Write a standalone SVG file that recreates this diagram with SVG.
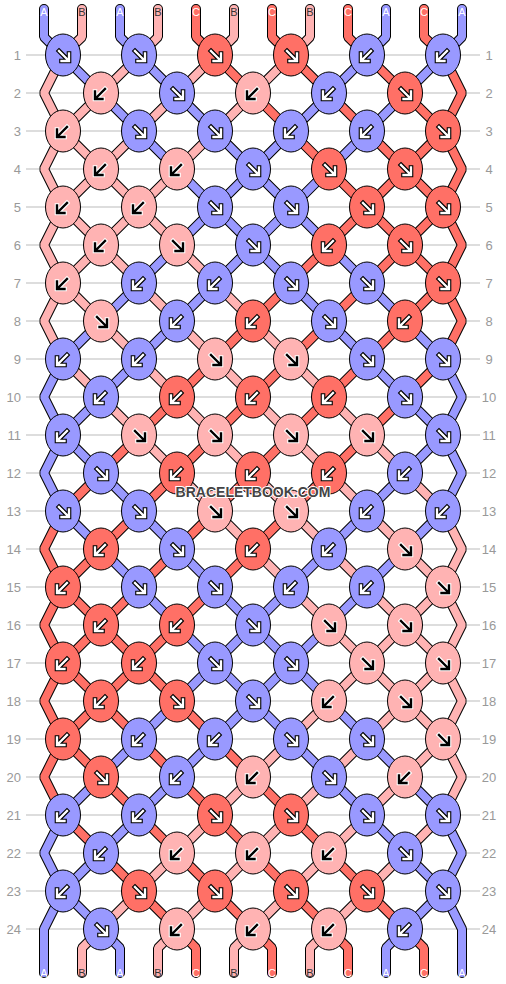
<svg xmlns="http://www.w3.org/2000/svg" xmlns:xlink="http://www.w3.org/1999/xlink" width="506" height="984" viewBox="0 0 506 984">
<style>
.grid line{stroke:#bbb;stroke-width:1}
.rl{font-family:"Liberation Sans",Arial,sans-serif;font-size:13px;fill:#999}
.rr{text-anchor:middle}
.ll{text-anchor:end}
.o{fill:none;stroke:#000;stroke-width:10;stroke-linecap:round;stroke-linejoin:bevel}
.f{fill:none;stroke-width:8;stroke-linecap:round;stroke-linejoin:bevel}
.sa{stroke:#9999ff}.sb{stroke:#ffb3b3}.sc{stroke:#ff7066}
ellipse{stroke:#000;stroke-width:1}
.a{fill:#9999ff}.b{fill:#ffb3b3}.c{fill:#ff7066}
.k1{fill:none;stroke:#000;stroke-width:4.6;stroke-linecap:square}
.k2{fill:none;stroke:#fff;stroke-width:2.4;stroke-linecap:square}
.sl{font-family:"Liberation Sans",Arial,sans-serif;font-size:11px;text-anchor:middle}
.ta,.tc{fill:#fff}.tb{fill:#333}
.wm{font-family:"Liberation Sans",Arial,sans-serif;font-size:14px;font-weight:bold;fill:#444;stroke:#fff;stroke-width:2;paint-order:stroke;text-anchor:middle}
</style>
<defs>
<g id="RW"><path class="k1" d="M-4,-4L5,5M6,-1.5V6H-1.5"/><path class="k2" d="M-4,-4L5,5M6,-1.5V6H-1.5"/></g>
<g id="LW"><path class="k1" d="M4,-4L-5,5M-6,-1.5V6H1.5"/><path class="k2" d="M4,-4L-5,5M-6,-1.5V6H1.5"/></g>
<g id="RK"><path class="k2" style="stroke-width:4.6" d="M-4,-4L5,5M6,-1.5V6H-1.5"/><path class="k1" style="stroke-width:2.4" d="M-4,-4L5,5M6,-1.5V6H-1.5"/></g>
<g id="LK"><path class="k2" style="stroke-width:4.6" d="M4,-4L-5,5M-6,-1.5V6H1.5"/><path class="k1" style="stroke-width:2.4" d="M4,-4L-5,5M-6,-1.5V6H1.5"/></g>
</defs>
<rect width="506" height="984" fill="#fff"/>
<g class="grid">
<line x1="26" x2="480" y1="55" y2="55"/><line x1="26" x2="480" y1="93" y2="93"/><line x1="26" x2="480" y1="131" y2="131"/><line x1="26" x2="480" y1="169" y2="169"/><line x1="26" x2="480" y1="207" y2="207"/><line x1="26" x2="480" y1="245" y2="245"/><line x1="26" x2="480" y1="283" y2="283"/><line x1="26" x2="480" y1="321" y2="321"/><line x1="26" x2="480" y1="359" y2="359"/><line x1="26" x2="480" y1="397" y2="397"/><line x1="26" x2="480" y1="435" y2="435"/><line x1="26" x2="480" y1="473" y2="473"/><line x1="26" x2="480" y1="511" y2="511"/><line x1="26" x2="480" y1="549" y2="549"/><line x1="26" x2="480" y1="587" y2="587"/><line x1="26" x2="480" y1="625" y2="625"/><line x1="26" x2="480" y1="663" y2="663"/><line x1="26" x2="480" y1="701" y2="701"/><line x1="26" x2="480" y1="739" y2="739"/><line x1="26" x2="480" y1="777" y2="777"/><line x1="26" x2="480" y1="815" y2="815"/><line x1="26" x2="480" y1="853" y2="853"/><line x1="26" x2="480" y1="891" y2="891"/><line x1="26" x2="480" y1="929" y2="929"/>
</g>
<g class="rl">
<g class="ll">
<text x="21" y="59.5">1</text><text x="21" y="97.5">2</text><text x="21" y="135.5">3</text><text x="21" y="173.5">4</text><text x="21" y="211.5">5</text><text x="21" y="249.5">6</text><text x="21" y="287.5">7</text><text x="21" y="325.5">8</text><text x="21" y="363.5">9</text><text x="21" y="401.5">10</text><text x="21" y="439.5">11</text><text x="21" y="477.5">12</text><text x="21" y="515.5">13</text><text x="21" y="553.5">14</text><text x="21" y="591.5">15</text><text x="21" y="629.5">16</text><text x="21" y="667.5">17</text><text x="21" y="705.5">18</text><text x="21" y="743.5">19</text><text x="21" y="781.5">20</text><text x="21" y="819.5">21</text><text x="21" y="857.5">22</text><text x="21" y="895.5">23</text><text x="21" y="933.5">24</text>
</g>
<g class="rr">
<text x="489" y="59.5">1</text><text x="489" y="97.5">2</text><text x="489" y="135.5">3</text><text x="489" y="173.5">4</text><text x="489" y="211.5">5</text><text x="489" y="249.5">6</text><text x="489" y="287.5">7</text><text x="489" y="325.5">8</text><text x="489" y="363.5">9</text><text x="489" y="401.5">10</text><text x="489" y="439.5">11</text><text x="489" y="477.5">12</text><text x="489" y="515.5">13</text><text x="489" y="553.5">14</text><text x="489" y="591.5">15</text><text x="489" y="629.5">16</text><text x="489" y="667.5">17</text><text x="489" y="705.5">18</text><text x="489" y="743.5">19</text><text x="489" y="781.5">20</text><text x="489" y="819.5">21</text><text x="489" y="857.5">22</text><text x="489" y="895.5">23</text><text x="489" y="933.5">24</text>
</g>
</g>
<g id="connectors">
<g class="o">
<path d="M44,9V37L443,435L462,473L443,511L63,891L44,929V973"/>
<path d="M82,9V37L63,55L44,93L63,131L443,511L462,549L443,587L101,929L82,948V973"/>
<path d="M120,9V37L443,359L462,397L443,435L63,815L44,853L63,891L101,929L120,948V973"/>
<path d="M158,9V37L63,131L44,169L63,207L443,587L462,625L443,663L177,929L158,948V973"/>
<path d="M196,9V37L443,283L462,321L443,359L63,739L44,777L63,815L177,929L196,948V973"/>
<path d="M234,9V37L63,207L44,245L63,283L443,663L462,701L443,739L253,929L234,948V973"/>
<path d="M272,9V37L443,207L462,245L443,283L63,663L44,701L63,739L253,929L272,948V973"/>
<path d="M310,9V37L63,283L44,321L63,359L443,739L462,777L443,815L329,929L310,948V973"/>
<path d="M348,9V37L443,131L462,169L443,207L63,587L44,625L63,663L329,929L348,948V973"/>
<path d="M386,9V37L63,359L44,397L63,435L443,815L462,853L443,891L405,929L386,948V973"/>
<path d="M424,9V37L443,55L462,93L443,131L63,511L44,549L63,587L405,929L424,948V973"/>
<path d="M462,9V37L63,435L44,473L63,511L443,891L462,929V973"/>
</g>
<g class="f">
<path id="s0" class="sa" d="M44,9V37L443,435L462,473L443,511L63,891L44,929V973"/>
<path id="s1" class="sb" d="M82,9V37L63,55L44,93L63,131L443,511L462,549L443,587L101,929L82,948V973"/>
<path id="s2" class="sa" d="M120,9V37L443,359L462,397L443,435L63,815L44,853L63,891L101,929L120,948V973"/>
<path id="s3" class="sb" d="M158,9V37L63,131L44,169L63,207L443,587L462,625L443,663L177,929L158,948V973"/>
<path id="s4" class="sc" d="M196,9V37L443,283L462,321L443,359L63,739L44,777L63,815L177,929L196,948V973"/>
<path id="s5" class="sb" d="M234,9V37L63,207L44,245L63,283L443,663L462,701L443,739L253,929L234,948V973"/>
<path id="s6" class="sc" d="M272,9V37L443,207L462,245L443,283L63,663L44,701L63,739L253,929L272,948V973"/>
<path id="s7" class="sb" d="M310,9V37L63,283L44,321L63,359L443,739L462,777L443,815L329,929L310,948V973"/>
<path id="s8" class="sc" d="M348,9V37L443,131L462,169L443,207L63,587L44,625L63,663L329,929L348,948V973"/>
<path id="s9" class="sa" d="M386,9V37L63,359L44,397L63,435L443,815L462,853L443,891L405,929L386,948V973"/>
<path id="s10" class="sc" d="M424,9V37L443,55L462,93L443,131L63,511L44,549L63,587L405,929L424,948V973"/>
<path id="s11" class="sa" d="M462,9V37L63,435L44,473L63,511L443,891L462,929V973"/>
</g>
</g>
<g class="sl">
<text class="ta" x="44" y="16">A</text><text class="tb" x="82" y="16">B</text><text class="ta" x="120" y="16">A</text><text class="tb" x="158" y="16">B</text><text class="tc" x="196" y="16">C</text><text class="tb" x="234" y="16">B</text><text class="tc" x="272" y="16">C</text><text class="tb" x="310" y="16">B</text><text class="tc" x="348" y="16">C</text><text class="ta" x="386" y="16">A</text><text class="tc" x="424" y="16">C</text><text class="ta" x="462" y="16">A</text>
<text class="ta" x="44" y="977">A</text><text class="tb" x="82" y="977">B</text><text class="ta" x="120" y="977">A</text><text class="tb" x="158" y="977">B</text><text class="tc" x="196" y="977">C</text><text class="tb" x="234" y="977">B</text><text class="tc" x="272" y="977">C</text><text class="tb" x="310" y="977">B</text><text class="tc" x="348" y="977">C</text><text class="ta" x="386" y="977">A</text><text class="tc" x="424" y="977">C</text><text class="ta" x="462" y="977">A</text>
</g>
<g id="knots">
<g id="n1_1"><ellipse class="a" cx="63" cy="55" rx="17.5" ry="21"/><use href="#RW" x="63" y="55"/></g>
<g id="n1_2"><ellipse class="a" cx="139" cy="55" rx="17.5" ry="21"/><use href="#RW" x="139" y="55"/></g>
<g id="n1_3"><ellipse class="c" cx="215" cy="55" rx="17.5" ry="21"/><use href="#RW" x="215" y="55"/></g>
<g id="n1_4"><ellipse class="c" cx="291" cy="55" rx="17.5" ry="21"/><use href="#RW" x="291" y="55"/></g>
<g id="n1_5"><ellipse class="a" cx="367" cy="55" rx="17.5" ry="21"/><use href="#LW" x="367" y="55"/></g>
<g id="n1_6"><ellipse class="a" cx="443" cy="55" rx="17.5" ry="21"/><use href="#LW" x="443" y="55"/></g>
<g id="n2_1"><ellipse class="b" cx="101" cy="93" rx="17.5" ry="21"/><use href="#LK" x="101" y="93"/></g>
<g id="n2_2"><ellipse class="a" cx="177" cy="93" rx="17.5" ry="21"/><use href="#RW" x="177" y="93"/></g>
<g id="n2_3"><ellipse class="b" cx="253" cy="93" rx="17.5" ry="21"/><use href="#LK" x="253" y="93"/></g>
<g id="n2_4"><ellipse class="a" cx="329" cy="93" rx="17.5" ry="21"/><use href="#LW" x="329" y="93"/></g>
<g id="n2_5"><ellipse class="c" cx="405" cy="93" rx="17.5" ry="21"/><use href="#RW" x="405" y="93"/></g>
<g id="n3_1"><ellipse class="b" cx="63" cy="131" rx="17.5" ry="21"/><use href="#LK" x="63" y="131"/></g>
<g id="n3_2"><ellipse class="a" cx="139" cy="131" rx="17.5" ry="21"/><use href="#RW" x="139" y="131"/></g>
<g id="n3_3"><ellipse class="a" cx="215" cy="131" rx="17.5" ry="21"/><use href="#RW" x="215" y="131"/></g>
<g id="n3_4"><ellipse class="a" cx="291" cy="131" rx="17.5" ry="21"/><use href="#LW" x="291" y="131"/></g>
<g id="n3_5"><ellipse class="a" cx="367" cy="131" rx="17.5" ry="21"/><use href="#LW" x="367" y="131"/></g>
<g id="n3_6"><ellipse class="c" cx="443" cy="131" rx="17.5" ry="21"/><use href="#RW" x="443" y="131"/></g>
<g id="n4_1"><ellipse class="b" cx="101" cy="169" rx="17.5" ry="21"/><use href="#LK" x="101" y="169"/></g>
<g id="n4_2"><ellipse class="b" cx="177" cy="169" rx="17.5" ry="21"/><use href="#LK" x="177" y="169"/></g>
<g id="n4_3"><ellipse class="a" cx="253" cy="169" rx="17.5" ry="21"/><use href="#RW" x="253" y="169"/></g>
<g id="n4_4"><ellipse class="c" cx="329" cy="169" rx="17.5" ry="21"/><use href="#RW" x="329" y="169"/></g>
<g id="n4_5"><ellipse class="c" cx="405" cy="169" rx="17.5" ry="21"/><use href="#RW" x="405" y="169"/></g>
<g id="n5_1"><ellipse class="b" cx="63" cy="207" rx="17.5" ry="21"/><use href="#LK" x="63" y="207"/></g>
<g id="n5_2"><ellipse class="b" cx="139" cy="207" rx="17.5" ry="21"/><use href="#LK" x="139" y="207"/></g>
<g id="n5_3"><ellipse class="a" cx="215" cy="207" rx="17.5" ry="21"/><use href="#RW" x="215" y="207"/></g>
<g id="n5_4"><ellipse class="a" cx="291" cy="207" rx="17.5" ry="21"/><use href="#RW" x="291" y="207"/></g>
<g id="n5_5"><ellipse class="c" cx="367" cy="207" rx="17.5" ry="21"/><use href="#RW" x="367" y="207"/></g>
<g id="n5_6"><ellipse class="c" cx="443" cy="207" rx="17.5" ry="21"/><use href="#RW" x="443" y="207"/></g>
<g id="n6_1"><ellipse class="b" cx="101" cy="245" rx="17.5" ry="21"/><use href="#LK" x="101" y="245"/></g>
<g id="n6_2"><ellipse class="b" cx="177" cy="245" rx="17.5" ry="21"/><use href="#RK" x="177" y="245"/></g>
<g id="n6_3"><ellipse class="a" cx="253" cy="245" rx="17.5" ry="21"/><use href="#RW" x="253" y="245"/></g>
<g id="n6_4"><ellipse class="c" cx="329" cy="245" rx="17.5" ry="21"/><use href="#LW" x="329" y="245"/></g>
<g id="n6_5"><ellipse class="c" cx="405" cy="245" rx="17.5" ry="21"/><use href="#RW" x="405" y="245"/></g>
<g id="n7_1"><ellipse class="b" cx="63" cy="283" rx="17.5" ry="21"/><use href="#LK" x="63" y="283"/></g>
<g id="n7_2"><ellipse class="a" cx="139" cy="283" rx="17.5" ry="21"/><use href="#LW" x="139" y="283"/></g>
<g id="n7_3"><ellipse class="a" cx="215" cy="283" rx="17.5" ry="21"/><use href="#LW" x="215" y="283"/></g>
<g id="n7_4"><ellipse class="a" cx="291" cy="283" rx="17.5" ry="21"/><use href="#RW" x="291" y="283"/></g>
<g id="n7_5"><ellipse class="a" cx="367" cy="283" rx="17.5" ry="21"/><use href="#RW" x="367" y="283"/></g>
<g id="n7_6"><ellipse class="c" cx="443" cy="283" rx="17.5" ry="21"/><use href="#RW" x="443" y="283"/></g>
<g id="n8_1"><ellipse class="b" cx="101" cy="321" rx="17.5" ry="21"/><use href="#RK" x="101" y="321"/></g>
<g id="n8_2"><ellipse class="a" cx="177" cy="321" rx="17.5" ry="21"/><use href="#LW" x="177" y="321"/></g>
<g id="n8_3"><ellipse class="c" cx="253" cy="321" rx="17.5" ry="21"/><use href="#LW" x="253" y="321"/></g>
<g id="n8_4"><ellipse class="a" cx="329" cy="321" rx="17.5" ry="21"/><use href="#RW" x="329" y="321"/></g>
<g id="n8_5"><ellipse class="c" cx="405" cy="321" rx="17.5" ry="21"/><use href="#LW" x="405" y="321"/></g>
<g id="n9_1"><ellipse class="a" cx="63" cy="359" rx="17.5" ry="21"/><use href="#LW" x="63" y="359"/></g>
<g id="n9_2"><ellipse class="a" cx="139" cy="359" rx="17.5" ry="21"/><use href="#LW" x="139" y="359"/></g>
<g id="n9_3"><ellipse class="b" cx="215" cy="359" rx="17.5" ry="21"/><use href="#RK" x="215" y="359"/></g>
<g id="n9_4"><ellipse class="b" cx="291" cy="359" rx="17.5" ry="21"/><use href="#RK" x="291" y="359"/></g>
<g id="n9_5"><ellipse class="a" cx="367" cy="359" rx="17.5" ry="21"/><use href="#RW" x="367" y="359"/></g>
<g id="n9_6"><ellipse class="a" cx="443" cy="359" rx="17.5" ry="21"/><use href="#RW" x="443" y="359"/></g>
<g id="n10_1"><ellipse class="a" cx="101" cy="397" rx="17.5" ry="21"/><use href="#LW" x="101" y="397"/></g>
<g id="n10_2"><ellipse class="c" cx="177" cy="397" rx="17.5" ry="21"/><use href="#LW" x="177" y="397"/></g>
<g id="n10_3"><ellipse class="c" cx="253" cy="397" rx="17.5" ry="21"/><use href="#LW" x="253" y="397"/></g>
<g id="n10_4"><ellipse class="c" cx="329" cy="397" rx="17.5" ry="21"/><use href="#LW" x="329" y="397"/></g>
<g id="n10_5"><ellipse class="a" cx="405" cy="397" rx="17.5" ry="21"/><use href="#RW" x="405" y="397"/></g>
<g id="n11_1"><ellipse class="a" cx="63" cy="435" rx="17.5" ry="21"/><use href="#LW" x="63" y="435"/></g>
<g id="n11_2"><ellipse class="b" cx="139" cy="435" rx="17.5" ry="21"/><use href="#RK" x="139" y="435"/></g>
<g id="n11_3"><ellipse class="b" cx="215" cy="435" rx="17.5" ry="21"/><use href="#RK" x="215" y="435"/></g>
<g id="n11_4"><ellipse class="b" cx="291" cy="435" rx="17.5" ry="21"/><use href="#RK" x="291" y="435"/></g>
<g id="n11_5"><ellipse class="b" cx="367" cy="435" rx="17.5" ry="21"/><use href="#RK" x="367" y="435"/></g>
<g id="n11_6"><ellipse class="a" cx="443" cy="435" rx="17.5" ry="21"/><use href="#RW" x="443" y="435"/></g>
<g id="n12_1"><ellipse class="a" cx="101" cy="473" rx="17.5" ry="21"/><use href="#RW" x="101" y="473"/></g>
<g id="n12_2"><ellipse class="c" cx="177" cy="473" rx="17.5" ry="21"/><use href="#LW" x="177" y="473"/></g>
<g id="n12_3"><ellipse class="c" cx="253" cy="473" rx="17.5" ry="21"/><use href="#LW" x="253" y="473"/></g>
<g id="n12_4"><ellipse class="c" cx="329" cy="473" rx="17.5" ry="21"/><use href="#LW" x="329" y="473"/></g>
<g id="n12_5"><ellipse class="a" cx="405" cy="473" rx="17.5" ry="21"/><use href="#LW" x="405" y="473"/></g>
<g id="n13_1"><ellipse class="a" cx="63" cy="511" rx="17.5" ry="21"/><use href="#RW" x="63" y="511"/></g>
<g id="n13_2"><ellipse class="a" cx="139" cy="511" rx="17.5" ry="21"/><use href="#RW" x="139" y="511"/></g>
<g id="n13_3"><ellipse class="b" cx="215" cy="511" rx="17.5" ry="21"/><use href="#RK" x="215" y="511"/></g>
<g id="n13_4"><ellipse class="b" cx="291" cy="511" rx="17.5" ry="21"/><use href="#RK" x="291" y="511"/></g>
<g id="n13_5"><ellipse class="a" cx="367" cy="511" rx="17.5" ry="21"/><use href="#LW" x="367" y="511"/></g>
<g id="n13_6"><ellipse class="a" cx="443" cy="511" rx="17.5" ry="21"/><use href="#LW" x="443" y="511"/></g>
<g id="n14_1"><ellipse class="c" cx="101" cy="549" rx="17.5" ry="21"/><use href="#LW" x="101" y="549"/></g>
<g id="n14_2"><ellipse class="a" cx="177" cy="549" rx="17.5" ry="21"/><use href="#RW" x="177" y="549"/></g>
<g id="n14_3"><ellipse class="c" cx="253" cy="549" rx="17.5" ry="21"/><use href="#LW" x="253" y="549"/></g>
<g id="n14_4"><ellipse class="a" cx="329" cy="549" rx="17.5" ry="21"/><use href="#LW" x="329" y="549"/></g>
<g id="n14_5"><ellipse class="b" cx="405" cy="549" rx="17.5" ry="21"/><use href="#RK" x="405" y="549"/></g>
<g id="n15_1"><ellipse class="c" cx="63" cy="587" rx="17.5" ry="21"/><use href="#LW" x="63" y="587"/></g>
<g id="n15_2"><ellipse class="a" cx="139" cy="587" rx="17.5" ry="21"/><use href="#RW" x="139" y="587"/></g>
<g id="n15_3"><ellipse class="a" cx="215" cy="587" rx="17.5" ry="21"/><use href="#RW" x="215" y="587"/></g>
<g id="n15_4"><ellipse class="a" cx="291" cy="587" rx="17.5" ry="21"/><use href="#LW" x="291" y="587"/></g>
<g id="n15_5"><ellipse class="a" cx="367" cy="587" rx="17.5" ry="21"/><use href="#LW" x="367" y="587"/></g>
<g id="n15_6"><ellipse class="b" cx="443" cy="587" rx="17.5" ry="21"/><use href="#RK" x="443" y="587"/></g>
<g id="n16_1"><ellipse class="c" cx="101" cy="625" rx="17.5" ry="21"/><use href="#LW" x="101" y="625"/></g>
<g id="n16_2"><ellipse class="c" cx="177" cy="625" rx="17.5" ry="21"/><use href="#LW" x="177" y="625"/></g>
<g id="n16_3"><ellipse class="a" cx="253" cy="625" rx="17.5" ry="21"/><use href="#RW" x="253" y="625"/></g>
<g id="n16_4"><ellipse class="b" cx="329" cy="625" rx="17.5" ry="21"/><use href="#RK" x="329" y="625"/></g>
<g id="n16_5"><ellipse class="b" cx="405" cy="625" rx="17.5" ry="21"/><use href="#RK" x="405" y="625"/></g>
<g id="n17_1"><ellipse class="c" cx="63" cy="663" rx="17.5" ry="21"/><use href="#LW" x="63" y="663"/></g>
<g id="n17_2"><ellipse class="c" cx="139" cy="663" rx="17.5" ry="21"/><use href="#LW" x="139" y="663"/></g>
<g id="n17_3"><ellipse class="a" cx="215" cy="663" rx="17.5" ry="21"/><use href="#RW" x="215" y="663"/></g>
<g id="n17_4"><ellipse class="a" cx="291" cy="663" rx="17.5" ry="21"/><use href="#RW" x="291" y="663"/></g>
<g id="n17_5"><ellipse class="b" cx="367" cy="663" rx="17.5" ry="21"/><use href="#RK" x="367" y="663"/></g>
<g id="n17_6"><ellipse class="b" cx="443" cy="663" rx="17.5" ry="21"/><use href="#RK" x="443" y="663"/></g>
<g id="n18_1"><ellipse class="c" cx="101" cy="701" rx="17.5" ry="21"/><use href="#LW" x="101" y="701"/></g>
<g id="n18_2"><ellipse class="c" cx="177" cy="701" rx="17.5" ry="21"/><use href="#RW" x="177" y="701"/></g>
<g id="n18_3"><ellipse class="a" cx="253" cy="701" rx="17.5" ry="21"/><use href="#RW" x="253" y="701"/></g>
<g id="n18_4"><ellipse class="b" cx="329" cy="701" rx="17.5" ry="21"/><use href="#LK" x="329" y="701"/></g>
<g id="n18_5"><ellipse class="b" cx="405" cy="701" rx="17.5" ry="21"/><use href="#RK" x="405" y="701"/></g>
<g id="n19_1"><ellipse class="c" cx="63" cy="739" rx="17.5" ry="21"/><use href="#LW" x="63" y="739"/></g>
<g id="n19_2"><ellipse class="a" cx="139" cy="739" rx="17.5" ry="21"/><use href="#LW" x="139" y="739"/></g>
<g id="n19_3"><ellipse class="a" cx="215" cy="739" rx="17.5" ry="21"/><use href="#LW" x="215" y="739"/></g>
<g id="n19_4"><ellipse class="a" cx="291" cy="739" rx="17.5" ry="21"/><use href="#RW" x="291" y="739"/></g>
<g id="n19_5"><ellipse class="a" cx="367" cy="739" rx="17.5" ry="21"/><use href="#RW" x="367" y="739"/></g>
<g id="n19_6"><ellipse class="b" cx="443" cy="739" rx="17.5" ry="21"/><use href="#RK" x="443" y="739"/></g>
<g id="n20_1"><ellipse class="c" cx="101" cy="777" rx="17.5" ry="21"/><use href="#RW" x="101" y="777"/></g>
<g id="n20_2"><ellipse class="a" cx="177" cy="777" rx="17.5" ry="21"/><use href="#LW" x="177" y="777"/></g>
<g id="n20_3"><ellipse class="b" cx="253" cy="777" rx="17.5" ry="21"/><use href="#LK" x="253" y="777"/></g>
<g id="n20_4"><ellipse class="a" cx="329" cy="777" rx="17.5" ry="21"/><use href="#RW" x="329" y="777"/></g>
<g id="n20_5"><ellipse class="b" cx="405" cy="777" rx="17.5" ry="21"/><use href="#LK" x="405" y="777"/></g>
<g id="n21_1"><ellipse class="a" cx="63" cy="815" rx="17.5" ry="21"/><use href="#LW" x="63" y="815"/></g>
<g id="n21_2"><ellipse class="a" cx="139" cy="815" rx="17.5" ry="21"/><use href="#LW" x="139" y="815"/></g>
<g id="n21_3"><ellipse class="c" cx="215" cy="815" rx="17.5" ry="21"/><use href="#RW" x="215" y="815"/></g>
<g id="n21_4"><ellipse class="c" cx="291" cy="815" rx="17.5" ry="21"/><use href="#RW" x="291" y="815"/></g>
<g id="n21_5"><ellipse class="a" cx="367" cy="815" rx="17.5" ry="21"/><use href="#RW" x="367" y="815"/></g>
<g id="n21_6"><ellipse class="a" cx="443" cy="815" rx="17.5" ry="21"/><use href="#RW" x="443" y="815"/></g>
<g id="n22_1"><ellipse class="a" cx="101" cy="853" rx="17.5" ry="21"/><use href="#LW" x="101" y="853"/></g>
<g id="n22_2"><ellipse class="b" cx="177" cy="853" rx="17.5" ry="21"/><use href="#LK" x="177" y="853"/></g>
<g id="n22_3"><ellipse class="b" cx="253" cy="853" rx="17.5" ry="21"/><use href="#LK" x="253" y="853"/></g>
<g id="n22_4"><ellipse class="b" cx="329" cy="853" rx="17.5" ry="21"/><use href="#LK" x="329" y="853"/></g>
<g id="n22_5"><ellipse class="a" cx="405" cy="853" rx="17.5" ry="21"/><use href="#RW" x="405" y="853"/></g>
<g id="n23_1"><ellipse class="a" cx="63" cy="891" rx="17.5" ry="21"/><use href="#LW" x="63" y="891"/></g>
<g id="n23_2"><ellipse class="c" cx="139" cy="891" rx="17.5" ry="21"/><use href="#RW" x="139" y="891"/></g>
<g id="n23_3"><ellipse class="c" cx="215" cy="891" rx="17.5" ry="21"/><use href="#RW" x="215" y="891"/></g>
<g id="n23_4"><ellipse class="c" cx="291" cy="891" rx="17.5" ry="21"/><use href="#RW" x="291" y="891"/></g>
<g id="n23_5"><ellipse class="c" cx="367" cy="891" rx="17.5" ry="21"/><use href="#RW" x="367" y="891"/></g>
<g id="n23_6"><ellipse class="a" cx="443" cy="891" rx="17.5" ry="21"/><use href="#RW" x="443" y="891"/></g>
<g id="n24_1"><ellipse class="a" cx="101" cy="929" rx="17.5" ry="21"/><use href="#RW" x="101" y="929"/></g>
<g id="n24_2"><ellipse class="b" cx="177" cy="929" rx="17.5" ry="21"/><use href="#LK" x="177" y="929"/></g>
<g id="n24_3"><ellipse class="b" cx="253" cy="929" rx="17.5" ry="21"/><use href="#LK" x="253" y="929"/></g>
<g id="n24_4"><ellipse class="b" cx="329" cy="929" rx="17.5" ry="21"/><use href="#LK" x="329" y="929"/></g>
<g id="n24_5"><ellipse class="a" cx="405" cy="929" rx="17.5" ry="21"/><use href="#LW" x="405" y="929"/></g>
</g>
<text class="wm" x="253" y="497">BRACELETBOOK.COM</text>
</svg>
